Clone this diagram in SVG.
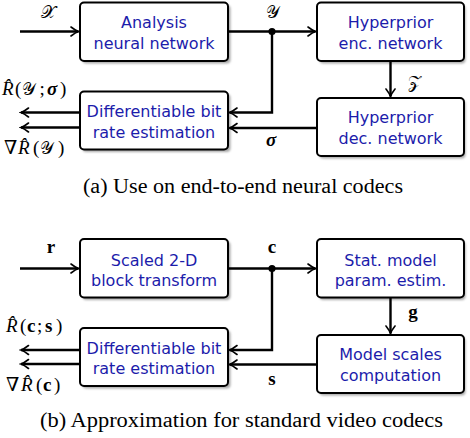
<svg xmlns="http://www.w3.org/2000/svg" width="470" height="438" viewBox="0 0 470 438">
<defs>
<filter id="sh" x="-10%" y="-10%" width="130%" height="130%"><feGaussianBlur stdDeviation="0.8"/></filter>
<marker id="ar" viewBox="-10 -6 12 12" markerWidth="12" markerHeight="12" refX="0" refY="0" orient="auto" markerUnits="userSpaceOnUse"><path d="M-7.5,-4.5 Q-3,-1 0,0 Q-3,1 -7.5,4.5" fill="none" stroke="#000" stroke-width="1.6" stroke-linecap="round"/></marker>
<style>
.box{fill:#fff;stroke:#000;stroke-width:2}
.shadow{fill:#a8a8a8;filter:url(#sh)}
.bt{font-family:"DejaVu Sans",sans-serif;font-size:16px;fill:#1c1cab;text-anchor:middle}
.ln{fill:none;stroke:#000;stroke-width:2.4}
.arr{marker-end:url(#ar)}
.m{font-family:"Liberation Serif","DejaVu Serif",serif;font-size:19px;fill:#000}
.sc{font-size:17px;font-weight:normal}
.it{font-style:italic}
.b{font-weight:bold}
.cap{font-family:"Liberation Serif",serif;font-size:20px;text-anchor:middle;fill:#000}
</style>
</defs>
<rect width="470" height="438" fill="#fff"/>

<!-- Top panel nodes -->
<g id="analysis">
<rect class="shadow" x="82.5" y="5" width="148" height="58.5" rx="4"/>
<rect class="box" x="80" y="2.5" width="148" height="58.5" rx="4"/>
<text class="bt" x="154" y="27.5">Analysis</text>
<text class="bt" x="154" y="48.5">neural network</text>
</g>
<g id="hyper-enc">
<rect class="shadow" x="319.5" y="5" width="146" height="58.5" rx="4"/>
<rect class="box" x="317" y="2.5" width="147" height="58.5" rx="4"/>
<text class="bt" x="390.5" y="27.5">Hyperprior</text>
<text class="bt" x="390.5" y="48.5">enc. network</text>
</g>
<g id="hyper-dec">
<rect class="shadow" x="319.5" y="100.5" width="146" height="58" rx="4"/>
<rect class="box" x="317" y="98" width="147" height="58" rx="4"/>
<text class="bt" x="390.5" y="123">Hyperprior</text>
<text class="bt" x="390.5" y="144">dec. network</text>
</g>
<g id="rate-est-a">
<rect class="shadow" x="82.5" y="94" width="148" height="58" rx="4"/>
<rect class="box" x="80" y="91.5" width="148" height="58" rx="4"/>
<text class="bt" x="154" y="117">Differentiable bit</text>
<text class="bt" x="154" y="137.5">rate estimation</text>
</g>

<!-- Bottom panel nodes -->
<g id="block-transform">
<rect class="shadow" x="82.5" y="241.5" width="148" height="58.5" rx="4"/>
<rect class="box" x="80" y="239" width="148" height="58.5" rx="4"/>
<text class="bt" x="154" y="265.5">Scaled 2-D</text>
<text class="bt" x="154" y="286">block transform</text>
</g>
<g id="stat-model">
<rect class="shadow" x="319.5" y="241.5" width="146" height="58.5" rx="4"/>
<rect class="box" x="317" y="239" width="147" height="58.5" rx="4"/>
<text class="bt" x="390.5" y="265.5">Stat. model</text>
<text class="bt" x="390.5" y="286">param. estim.</text>
</g>
<g id="model-scales">
<rect class="shadow" x="319.5" y="337.5" width="146" height="58" rx="4"/>
<rect class="box" x="317" y="335" width="147" height="58" rx="4"/>
<text class="bt" x="390.5" y="360">Model scales</text>
<text class="bt" x="390.5" y="380.5">computation</text>
</g>
<g id="rate-est-b">
<rect class="shadow" x="82.5" y="330.5" width="148" height="58" rx="4"/>
<rect class="box" x="80" y="328" width="148" height="58" rx="4"/>
<text class="bt" x="154" y="353.5">Differentiable bit</text>
<text class="bt" x="154" y="374">rate estimation</text>
</g>

<!-- Connectors -->
<g id="connectors">
<path class="ln arr" d="M20 31.5 H78.5"/>
<path class="ln arr" d="M228 31.5 H315.5"/>
<circle cx="272" cy="31.5" r="3.6" fill="#000"/>
<path class="ln arr" d="M272 31.5 V112.5 H229.5"/>
<path class="ln arr" d="M317 128 H229.5"/>
<path class="ln arr" d="M390.5 61 V96.5"/>
<path class="ln arr" d="M80 112.5 H21"/>
<path class="ln arr" d="M80 127.5 H21"/>

<path class="ln arr" d="M20 268.5 H78.5"/>
<path class="ln arr" d="M228 268.5 H315.5"/>
<circle cx="272" cy="268.5" r="3.6" fill="#000"/>
<path class="ln arr" d="M272 268.5 V350 H229.5"/>
<path class="ln arr" d="M317 364.5 H229.5"/>
<path class="ln arr" d="M390.5 297.5 V333.5"/>
<path class="ln arr" d="M80 350 H21"/>
<path class="ln arr" d="M80 364 H21"/>
</g>

<!-- Labels -->
<g id="labels">
<text class="m sc" x="48" y="17.5" text-anchor="middle">𝒳</text>
<text class="m sc" x="272" y="17.5" text-anchor="middle">𝒴</text>
<text class="m sc" x="414" y="87.5" text-anchor="middle">𝒵</text>
<text class="m it b" x="271" y="146" text-anchor="middle">σ</text>

<text class="m"><tspan class="it" x="2" y="95">R̂</tspan><tspan x="15">(</tspan><tspan class="sc" x="22">𝒴</tspan><tspan x="39.5">;</tspan><tspan class="it b" x="47">σ</tspan><tspan x="60">)</tspan></text>
<text class="m"><tspan x="4" y="154">∇</tspan><tspan class="it" x="18">R̂</tspan><tspan x="33">(</tspan><tspan class="sc" x="40">𝒴</tspan><tspan x="58">)</tspan></text>

<text class="m b" x="51" y="253" text-anchor="middle">r</text>
<text class="m b" x="272" y="253" text-anchor="middle">c</text>
<text class="m b" x="413" y="318" text-anchor="middle">g</text>
<text class="m b" x="272" y="385" text-anchor="middle">s</text>

<text class="m"><tspan class="it" x="6" y="332">R̂</tspan><tspan x="20">(</tspan><tspan class="b" x="27">c</tspan><tspan x="37">;</tspan><tspan class="b" x="45">s</tspan><tspan x="56">)</tspan></text>
<text class="m"><tspan x="6" y="391">∇</tspan><tspan class="it" x="21">R̂</tspan><tspan x="36">(</tspan><tspan class="b" x="43">c</tspan><tspan x="54">)</tspan></text>
</g>

<text class="cap" x="243" y="193" textLength="320" lengthAdjust="spacingAndGlyphs">(a) Use on end-to-end neural codecs</text>
<text class="cap" x="241.5" y="427" textLength="403" lengthAdjust="spacingAndGlyphs">(b) Approximation for standard video codecs</text>
</svg>
